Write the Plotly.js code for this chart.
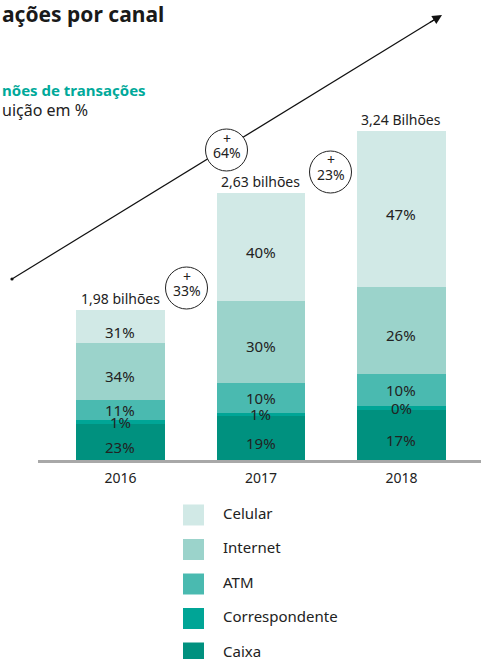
<!DOCTYPE html>
<html><head><meta charset="utf-8">
<script src="https://cdn.plot.ly/plotly-3.0.1.min.js"></script>
<style>html,body{margin:0;padding:0;background:#fff}#chart{width:481px;height:659px}</style>
</head><body><div id="chart"></div>
<script>
// ---- data ----
const years = ['2016', '2017', '2018'];
const totalLabels = ['1,98 bilhões', '2,63 bilhões', '3,24 Bilhões'];
const seriesNames = ['Celular', 'Internet', 'ATM', 'Correspondente', 'Caixa'];
// segment heights (bilhões, as drawn)
const caixa = [0.354, 0.433, 0.490];
const correspondente = [0.039, 0.030, 0.039];
const atm = [0.197, 0.295, 0.315];
const internet = [0.560, 0.806, 0.855];
const celular = [0.324, 1.062, 1.534];
// share labels (%)
const caixaPct = [23, 19, 17];
const correspondentePct = [1, 1, 0];
const atmPct = [11, 10, 10];
const internetPct = [34, 30, 26];
const celularPct = [31, 40, 47];
const growthLabels = ['64%', '33%', '23%'];

const colors = {Celular:'#d1e9e6', Internet:'#9bd3cb', ATM:'#4abab0', Correspondente:'#00a596', Caixa:'#00917f'};
const labelShift = {Celular:-5, Internet:-4, ATM:0, Correspondente:2, Caixa:-5};
const FONT = 'Noto Sans, Open Sans, sans-serif';
const TXT = '#222';
const W = 481, H = 659;

const stack = [
  {name:'Caixa', v:caixa, p:caixaPct},
  {name:'Correspondente', v:correspondente, p:correspondentePct},
  {name:'ATM', v:atm, p:atmPct},
  {name:'Internet', v:internet, p:internetPct},
  {name:'Celular', v:celular, p:celularPct}
];

const traces = stack.map(s => ({
  type:'bar', x:years, y:s.v, name:s.name, width:0.633,
  marker:{color:colors[s.name], line:{width:0}},
  hoverinfo:'skip', showlegend:false, xaxis:'x', yaxis:'y'
}));

const annotations = [];
// percentage labels (category axis: use category index)
const cum = years.map(() => 0);
stack.forEach(s => {
  years.forEach((yr, i) => {
    const base = cum[i];
    const isTiny = s.name === 'Correspondente';
    annotations.push({
      xref:'x', yref:'y', x:i, xanchor:'center', y: isTiny ? base : base + s.v[i]/2,
      text: s.p[i] + '%', showarrow:false, yanchor:'middle', yshift: labelShift[s.name],
      font:{family:FONT, size:15, color:TXT}
    });
    cum[i] += s.v[i];
  });
});
// totals
years.forEach((yr, i) => {
  annotations.push({xref:'x', yref:'y', x:i, xanchor:'center', y:cum[i], yanchor:'bottom', yshift:0,
    text: totalLabels[i], showarrow:false, font:{family:FONT, size:14, color:TXT}});
});
// title & subtitles
const px = x => x / W, py = y => 1 - y / H;
annotations.push({xref:'paper', yref:'paper', x:0, xanchor:'left', y:py(14), yanchor:'middle',
  text:'<b>ações por canal</b>', showarrow:false, font:{family:FONT, size:21, color:'#1a1a1a'}});
annotations.push({xref:'paper', yref:'paper', x:0, xanchor:'left', y:py(90), yanchor:'middle',
  text:'<b>nões de transações</b>', showarrow:false, font:{family:FONT, size:15, color:'#00a99a'}});
annotations.push({xref:'paper', yref:'paper', x:0, xanchor:'left', y:py(110), yanchor:'middle',
  text:'uição em %', showarrow:false, font:{family:FONT, size:16, color:TXT}});

// arrow line (shape) + head (annotation)
const tail = [12, 279], tip = [442, 15];
const dx = tail[0]-tip[0], dy = tail[1]-tip[1], len = Math.hypot(dx, dy);
annotations.push({xref:'paper', yref:'paper', x:px(tip[0]), y:py(tip[1]), ax:dx/len*16, ay:dy/len*16,
  axref:'pixel', ayref:'pixel', text:'', showarrow:true, arrowhead:2, arrowsize:1.6, arrowwidth:1.2,
  arrowcolor:'#111', standoff:0});

const circles = [[226.5, 150], [186.5, 288], [330.5, 172]];
const shapes = [
  {type:'line', xref:'paper', yref:'paper', x0:px(tail[0]), y0:py(tail[1]), x1:px(tip[0]-4), y1:py(tip[1]+2.5),
   line:{color:'#111', width:1.2}},
  {type:'circle', xref:'paper', yref:'paper', xsizemode:'pixel', ysizemode:'pixel',
   xanchor:px(tail[0]), yanchor:py(tail[1]), x0:-1.6, x1:1.6, y0:-1.6, y1:1.6,
   fillcolor:'#111', line:{width:0}}
];
circles.forEach((c, i) => {
  shapes.push({type:'circle', xref:'paper', yref:'paper', xsizemode:'pixel', ysizemode:'pixel',
    xanchor:px(c[0]), yanchor:py(c[1]), x0:-21, x1:21, y0:-21, y1:21,
    fillcolor:'#fff', line:{color:'#222', width:1}});
  annotations.push({xref:'paper', yref:'paper', x:px(c[0]), xanchor:'center', y:py(c[1] - 12), yanchor:'middle', text:'+',
    showarrow:false, font:{family:FONT, size:14, color:TXT}});
  annotations.push({xref:'paper', yref:'paper', x:px(c[0]), xanchor:'center', y:py(c[1] + 3), yanchor:'middle', text:growthLabels[i],
    showarrow:false, font:{family:FONT, size:14, color:TXT}});
});

// custom legend
const legendIdx = seriesNames.map((n, i) => i);
traces.push({type:'scatter', mode:'markers', x:seriesNames.map(() => 193.5), y:legendIdx,
  marker:{symbol:'square', size:21, color:seriesNames.map(n => colors[n]), line:{width:0}},
  xaxis:'x2', yaxis:'y2', showlegend:false, hoverinfo:'skip'});
traces.push({type:'scatter', mode:'text', x:seriesNames.map(() => 223), y:legendIdx, text:seriesNames,
  textposition:'middle right', textfont:{family:FONT, size:15, color:TXT},
  xaxis:'x2', yaxis:'y2', showlegend:false, hoverinfo:'skip'});

const layout = {
  width:W, height:H, margin:{l:0, r:0, t:0, b:0}, paper_bgcolor:'#fff', plot_bgcolor:'rgba(0,0,0,0)',
  barmode:'stack', bargap:0, showlegend:false,
  font:{family:FONT, color:TXT},
  xaxis:{domain:[38/W, 1], anchor:'y', type:'category', range:[-0.587, 2.566], showline:true,
    linecolor:'#a8a8a8', linewidth:3, ticks:'', showgrid:false, zeroline:false, ticklabelstandoff:3,
    tickfont:{family:FONT, size:14, color:TXT}, fixedrange:true},
  yaxis:{domain:[199/H, 1], anchor:'x', range:[0, 4.523], visible:false, fixedrange:true},
  xaxis2:{domain:[0, 1], anchor:'y2', range:[0, W], visible:false},
  yaxis2:{domain:[0, 199/H], anchor:'x2', range:[4.174, -1.594], visible:false},
  annotations, shapes
};
Plotly.newPlot('chart', traces, layout, {displayModeBar:false, staticPlot:true});
</script></body></html>
